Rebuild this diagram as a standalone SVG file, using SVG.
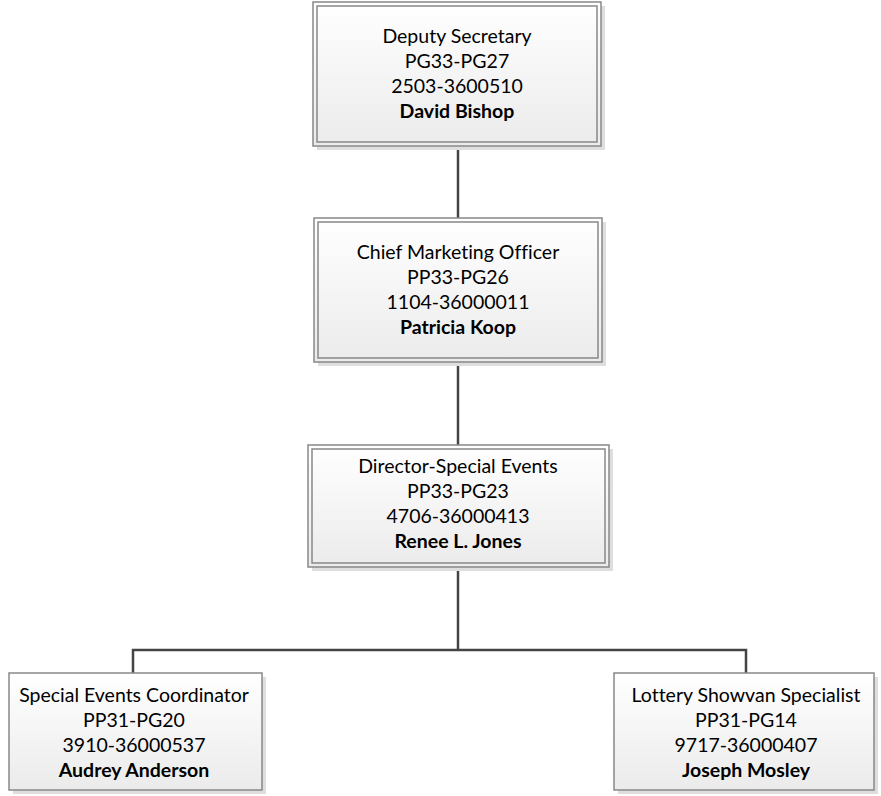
<svg xmlns="http://www.w3.org/2000/svg" width="881" height="796" viewBox="0 0 881 796">
  <defs>
    <linearGradient id="boxFill" x1="0" y1="0" x2="0" y2="1">
      <stop offset="0" stop-color="#ffffff"/>
      <stop offset="1" stop-color="#ebebeb"/>
    </linearGradient>
    <style>
      .shadow { fill: #dedede; }
      .outer { fill: url(#boxFill); stroke: #888888; stroke-width: 1.5; }
      .inner { fill: none; stroke: #888888; stroke-width: 1.5; }
      .link { fill: none; stroke: #444444; stroke-width: 2.5; }
      text { font-family: "Lato", "Open Sans", "Liberation Sans", sans-serif; font-size: 19.5px; fill: #000; text-anchor: middle; font-variant-ligatures: none; font-feature-settings: "liga" 0; }
      .name { font-weight: bold; }
    </style>
  </defs>
  <rect width="881" height="796" fill="#ffffff"/>

  <!-- reporting lines -->
  <g id="connectors">
    <line class="link" x1="458" y1="146" x2="458" y2="218"/>
    <line class="link" x1="458" y1="362" x2="458" y2="445"/>
    <polyline class="link" points="458,567 458,650"/>
    <polyline class="link" points="133,673 133,650 746,650 746,673"/>
  </g>

  <g id="deputy-secretary">
    <rect class="shadow" x="317" y="6" width="288" height="144"/>
    <rect class="outer" x="313" y="2" width="288" height="144"/>
    <rect class="inner" x="317" y="6" width="280" height="136"/>
    <text x="457" y="43">Deputy Secretary</text>
    <text x="457" y="68">PG33-PG27</text>
    <text x="457" y="93">2503-3600510</text>
    <text class="name" x="457" y="118">David Bishop</text>
  </g>

  <g id="chief-marketing-officer">
    <rect class="shadow" x="318" y="222" width="288" height="144"/>
    <rect class="outer" x="314" y="218" width="288" height="144"/>
    <rect class="inner" x="318" y="222" width="280" height="136"/>
    <text x="458" y="259">Chief Marketing Officer</text>
    <text x="458" y="284">PP33-PG26</text>
    <text x="458" y="309">1104-36000011</text>
    <text class="name" x="458" y="334">Patricia Koop</text>
  </g>

  <g id="director-special-events">
    <rect class="shadow" x="312" y="449" width="301" height="122"/>
    <rect class="outer" x="308" y="445" width="301" height="122"/>
    <rect class="inner" x="312" y="449" width="293" height="114"/>
    <text x="458" y="473">Director-Special Events</text>
    <text x="458" y="498">PP33-PG23</text>
    <text x="458" y="523">4706-36000413</text>
    <text class="name" x="458" y="548">Renee L. Jones</text>
  </g>

  <g id="special-events-coordinator">
    <rect class="shadow" x="13" y="677" width="253" height="117"/>
    <rect class="outer" x="9" y="673" width="253" height="117"/>
    <text x="134" y="702">Special Events Coordinator</text>
    <text x="134" y="727">PP31-PG20</text>
    <text x="134" y="752">3910-36000537</text>
    <text class="name" x="134" y="777">Audrey Anderson</text>
  </g>

  <g id="lottery-showvan-specialist">
    <rect class="shadow" x="618" y="677" width="260" height="117"/>
    <rect class="outer" x="614" y="673" width="260" height="117"/>
    <text x="746" y="702">Lottery Showvan Specialist</text>
    <text x="746" y="727">PP31-PG14</text>
    <text x="746" y="752">9717-36000407</text>
    <text class="name" x="746" y="777">Joseph Mosley</text>
  </g>
</svg>
